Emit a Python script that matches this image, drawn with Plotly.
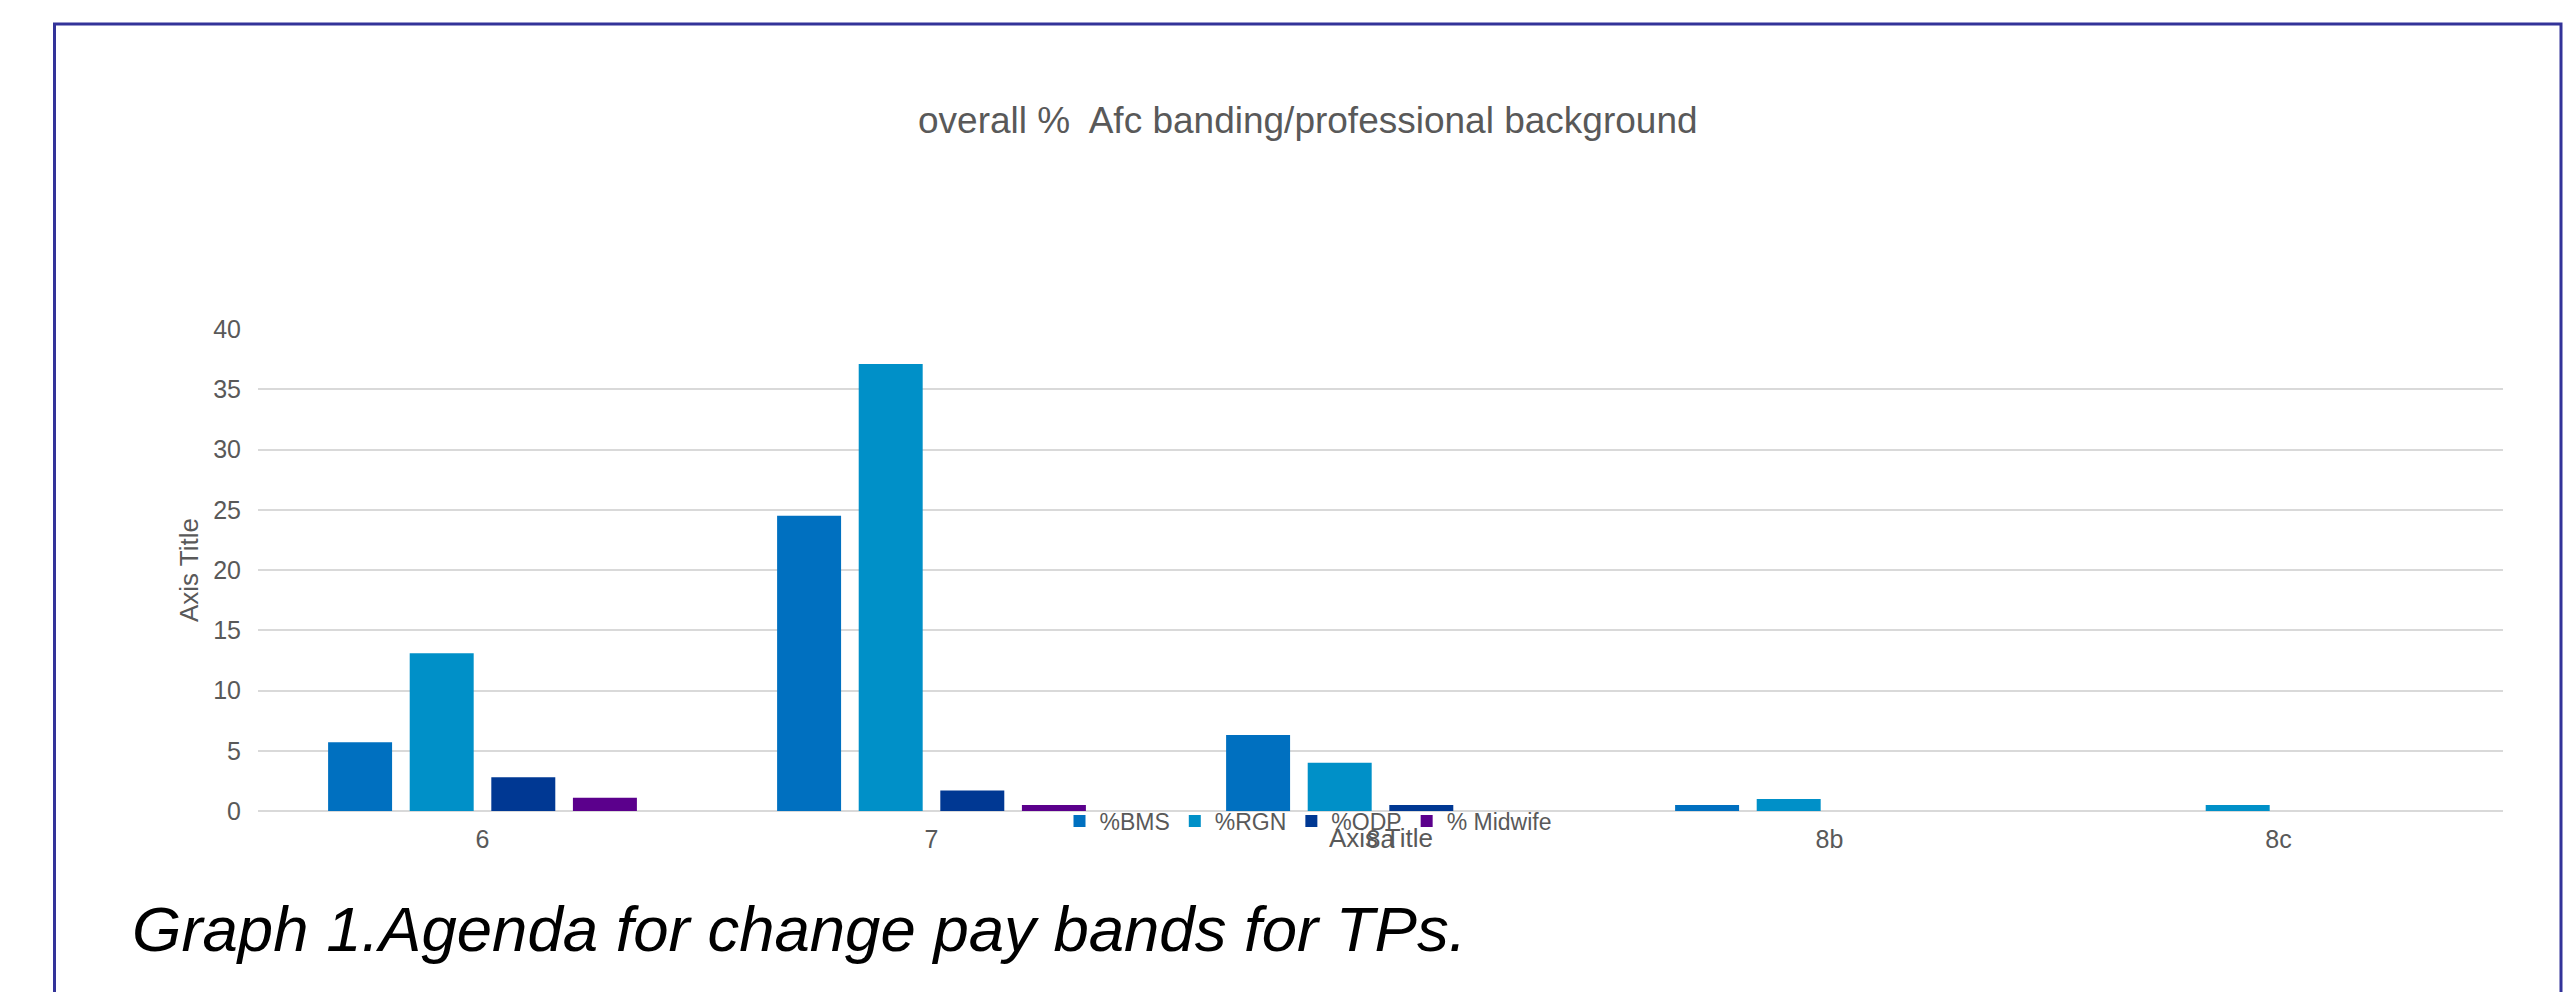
import plotly.graph_objects as go

categories = ["6", "7", "8a", "8b", "8c"]
bms = [5.7, 24.5, 6.3, 0.5, 0]
rgn = [13.1, 37.1, 4.0, 1.0, 0.5]
odp = [2.8, 1.7, 0.5, 0, 0]
midwife = [1.1, 0.5, 0, 0, 0]

series_names = ["%BMS", "%RGN", "%ODP", "% Midwife"]
series_values = [bms, rgn, odp, midwife]
series_colors = ["#0070C0", "#0090C8", "#003893", "#5B008C"]

y_ticks = [0, 5, 10, 15, 20, 25, 30, 35, 40]

FONT = "Liberation Sans, Arial, sans-serif"
GREY = "#595959"

fig = go.Figure()
for name, vals, col in zip(series_names, series_values, series_colors):
    fig.add_trace(go.Bar(x=categories, y=vals, name=name, marker_color=col,
                         marker_line_width=0))

W, H = 2576, 992
L, R, T, B = 258, 73, 329, 181
pw, ph = W - L - R, H - T - B


def px_to_paper_x(px):
    return (px - L) / pw


def px_to_paper_y(py):
    return (H - B - py) / ph


fig.update_layout(
    width=W, height=H,
    margin=dict(l=L, r=R, t=T, b=B, pad=0),
    paper_bgcolor="white", plot_bgcolor="white",
    barmode="group", bargap=0.273, bargroupgap=0.216,
    font=dict(family=FONT, color=GREY, size=22),
    showlegend=True,
    legend=dict(orientation="h", x=px_to_paper_x(1308), xanchor="center",
                y=px_to_paper_y(821), yanchor="middle",
                font=dict(size=23, color=GREY), itemwidth=30,
                bgcolor="rgba(0,0,0,0)", traceorder="normal"),
    xaxis=dict(type="category", showgrid=False, showline=False, zeroline=False,
               ticks="", tickfont=dict(size=25, color=GREY), ticklabelstandoff=11),
    yaxis=dict(range=[0, 40], tickvals=y_ticks, showgrid=True, gridcolor="#D9D9D9",
               gridwidth=2, zeroline=True, zerolinecolor="#D9D9D9", zerolinewidth=2,
               showline=False, ticks="", tickfont=dict(size=25, color=GREY),
               ticklabelstandoff=16),
)

fig.add_annotation(text="overall %  Afc banding/professional background",
                   xref="paper", yref="paper", x=px_to_paper_x(1308), y=px_to_paper_y(120),
                   xanchor="center", yanchor="middle", showarrow=False,
                   font=dict(size=37, color=GREY, family=FONT))
fig.add_annotation(text="Axis Title", xref="paper", yref="paper",
                   x=px_to_paper_x(189), y=0.5, textangle=-90,
                   xanchor="center", yanchor="middle", showarrow=False,
                   font=dict(size=26, color=GREY, family=FONT))
fig.add_annotation(text="Axis Title", xref="paper", yref="paper",
                   x=0.5, y=px_to_paper_y(838),
                   xanchor="center", yanchor="middle", showarrow=False,
                   font=dict(size=26, color=GREY, family=FONT))
fig.add_annotation(text="<i>Graph 1.Agenda for change pay bands for TPs.</i>",
                   xref="paper", yref="paper", x=px_to_paper_x(130), y=px_to_paper_y(929),
                   xanchor="left", yanchor="middle", showarrow=False,
                   font=dict(size=63.5, color="black", family=FONT))

fig.add_shape(type="rect", xref="paper", yref="paper",
              x0=px_to_paper_x(54.5), x1=px_to_paper_x(2561),
              y0=px_to_paper_y(1010), y1=px_to_paper_y(24),
              line=dict(color="#333399", width=3), fillcolor="rgba(0,0,0,0)",
              layer="below")

fig.write_html("out.html")
